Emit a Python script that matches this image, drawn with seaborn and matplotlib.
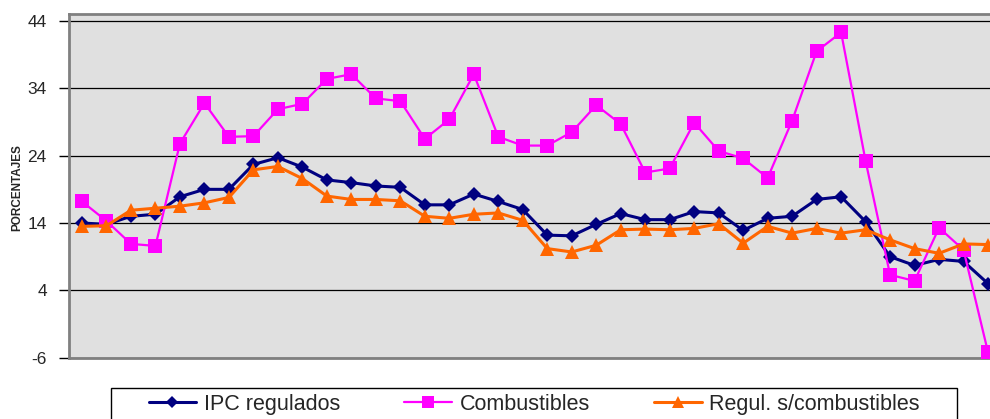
import seaborn as sns
import matplotlib.pyplot as plt
import pandas as pd
import numpy as np
from matplotlib.patches import Rectangle

# monthly series (38 periods)
ipc_regulados = [14.0, 13.8, 15.0, 15.3, 17.9, 19.0, 19.0, 22.7, 23.7, 22.3,
                 20.4, 20.0, 19.5, 19.3, 16.7, 16.7, 18.3, 17.2, 16.0, 12.2,
                 12.1, 13.8, 15.4, 14.5, 14.5, 15.7, 15.5, 12.9, 14.7, 15.0,
                 17.5, 17.9, 14.2, 9.0, 7.7, 8.6, 8.3, 5.0]
combustibles = [17.2, 14.3, 10.9, 10.6, 25.8, 31.8, 26.8, 26.9, 30.9, 31.7,
                35.4, 36.1, 32.5, 32.1, 26.5, 29.4, 36.1, 26.8, 25.5, 25.5,
                27.5, 31.5, 28.7, 21.5, 22.1, 28.9, 24.7, 23.6, 20.7, 29.2,
                39.5, 42.3, 23.2, 6.3, 5.4, 13.3, 10.0, -5.2]
regul_sin_comb = [13.5, 13.6, 15.9, 16.2, 16.5, 17.0, 17.8, 21.9, 22.4, 20.6,
                  18.0, 17.5, 17.5, 17.3, 15.0, 14.7, 15.3, 15.5, 14.4, 10.2,
                  9.7, 10.7, 13.0, 13.1, 13.0, 13.2, 13.9, 11.0, 13.5, 12.5,
                  13.2, 12.5, 13.0, 11.5, 10.2, 9.5, 10.9, 10.8]
yticks = [-6, 4, 14, 24, 34, 44]

names = ["IPC regulados", "Combustibles", "Regul. s/combustibles"]
periodo = np.arange(len(ipc_regulados))
df = pd.concat([
    pd.DataFrame({"Periodo": periodo, "Valor": v, "Serie": n})
    for n, v in zip(names, [ipc_regulados, combustibles, regul_sin_comb])
])

sns.set_style("white")
plt.rcParams["font.family"] = ["Liberation Sans", "DejaVu Sans"]

fig = plt.figure(figsize=(9.9, 4.19), dpi=100)
ax = fig.add_axes([0.0697, 0.1463, 0.9303, 0.8203])
ax.set_facecolor("#E0E0E0")

colors = {"IPC regulados": "#000080", "Combustibles": "#FF00FF",
          "Regul. s/combustibles": "#FF6600"}
markers = {"IPC regulados": "D", "Combustibles": "s",
           "Regul. s/combustibles": "^"}
sizes = {"IPC regulados": 7, "Combustibles": 10, "Regul. s/combustibles": 10}
widths = {"IPC regulados": 2.2, "Combustibles": 1.6, "Regul. s/combustibles": 2.2}

for n in names:
    sns.lineplot(data=df[df["Serie"] == n], x="Periodo", y="Valor", ax=ax,
                 color=colors[n], marker=markers[n], markersize=sizes[n],
                 markeredgewidth=0, linewidth=widths[n], label=n,
                 legend=False, zorder=3)

ax.set_xlim(-0.53, 37.08)
ax.set_ylim(-6, 45.04)
ax.set_yticks(yticks)
ax.set_yticklabels([str(t) for t in yticks], fontsize=12.5)
ax.set_xticks([])
ax.yaxis.grid(True, color="black", linewidth=0.9)
ax.tick_params(axis="y", length=7, width=1, color="black", left=True, pad=9)
for s in ["left", "top", "bottom", "right"]:
    ax.spines[s].set_color("#808080")
    ax.spines[s].set_linewidth(2)
ax.spines["right"].set_visible(False)
ax.set_xlabel("")
ax.set_ylabel("")
fig.text(17 / 990, 1 - 188 / 419, "PORCENTAJES", rotation=90, fontsize=8.5,
         fontweight="bold", ha="center", va="center")

# legend box at the bottom
fig.patches.append(Rectangle((111 / 990, -0.05), 846 / 990, 0.05 + 31 / 419,
                             transform=fig.transFigure, facecolor="white",
                             edgecolor="black", linewidth=1))
handles, labels = ax.get_legend_handles_labels()
leg = fig.legend(handles, labels, loc="center left", ncol=3,
                 bbox_to_anchor=(138 / 990, 1 - 404 / 419), fontsize=15.5,
                 frameon=False, columnspacing=3.0, handlelength=2.2,
                 handletextpad=0.35, borderpad=0.0, markerscale=0.85)

fig.savefig("out.png", dpi=100)
